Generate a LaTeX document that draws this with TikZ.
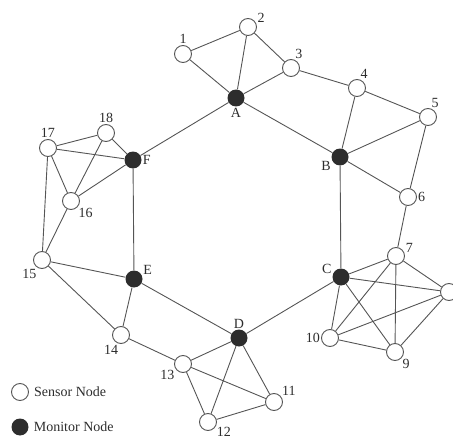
\documentclass[tikz,border=0pt]{standalone}
\usepackage{fontspec}
\setmainfont{Liberation Serif}
\usepackage{xcolor}
\usetikzlibrary{positioning}

\definecolor{linegray}{RGB}{85,85,85}
\definecolor{inkgray}{RGB}{45,45,45}

\begin{document}
\begin{tikzpicture}[
  x=1pt, y=-1pt,
  sensor/.style={circle, draw=linegray, line width=0.9pt, fill=white, minimum size=17pt, inner sep=0pt},
  monitor/.style={circle, fill=inkgray, minimum size=17pt, inner sep=0pt},
  link/.style={draw=linegray, line width=0.9pt},
  every label/.style={font=\fontsize{14}{16}\selectfont, text=inkgray, inner sep=1pt},
  keytext/.style={font=\fontsize{14}{16}\selectfont, text=inkgray, inner sep=0pt}
]
\useasboundingbox (0,0) rectangle (453,436);

% monitor nodes
\node[monitor, label=below:A] (A) at (236,98) {};
\node[monitor, label=200:B] (B) at (340,157) {};
\node[monitor, label=165:C] (C) at (341,277) {};
\node[monitor, label=above:D] (D) at (239,338) {};
\node[monitor, label=20:E] (E) at (134,279) {};
\node[monitor, label=right:F] (F) at (133,160) {};

% sensor nodes
\node[sensor, label=above:1] (n1) at (183,54) {};
\node[sensor, label=20:2] (n2) at (248,27) {};
\node[sensor, label=70:3] (n3) at (291,68) {};
\node[sensor, label=75:4] (n4) at (357,88) {};
\node[sensor, label=75:5] (n5) at (428,117) {};
\node[sensor, label=right:6] (n6) at (408,197) {};
\node[sensor, label=15:7] (n7) at (396,256) {};
\node[sensor] (n8) at (449,292) {};
\node[sensor, label=-45:9] (n9) at (395,352) {};
\node[sensor, label=left:10] (n10) at (330,338) {};
\node[sensor, label=40:11] (n11) at (274,402) {};
\node[sensor, label=-30:12] (n12) at (208,422) {};
\node[sensor, label=215:13] (n13) at (183,364) {};
\node[sensor, label=-100:14] (n14) at (121,335) {};
\node[sensor, label=240:15] (n15) at (42,260) {};
\node[sensor, label=-45:16] (n16) at (71,201) {};
\node[sensor, label=above:17] (n17) at (48,148) {};
\node[sensor, label=above:18] (n18) at (106,133) {};

% ring of monitors
\draw[link] (A) -- (B) -- (C) -- (D) -- (E) -- (F) -- (A);

% clusters
\draw[link] (n1) -- (n2) (n1) -- (A) (n2) -- (A) (n2) -- (n3) (n3) -- (A) (n3) -- (n4);
\draw[link] (n4) -- (B) (n4) -- (n5) (n5) -- (B) (n5) -- (n6) (n6) -- (B) (n6) -- (n7);
\draw[link] (C) -- (n7) (C) -- (n8) (C) -- (n9) (C) -- (n10);
\draw[link] (n7) -- (n8) (n7) -- (n9) (n7) -- (n10) (n8) -- (n9) (n8) -- (n10) (n9) -- (n10);
\draw[link] (D) -- (n13) (D) -- (n11) (D) -- (n12) (n13) -- (n11) (n13) -- (n12) (n12) -- (n11);
\draw[link] (n13) -- (n14) (n14) -- (E) (n14) -- (n15) (n15) -- (E);
\draw[link] (n15) -- (n16) (n15) -- (n17) (n16) -- (F) (n16) -- (n17) (n16) -- (n18);
\draw[link] (n17) -- (n18) (n17) -- (F) (n18) -- (F);

% legend
\node[sensor] (sensorkey) at (20,392) {};
\node[keytext, right=5pt of sensorkey] (sensortext) {Sensor Node};
\node[monitor] (monitorkey) at (20,427) {};
\node[keytext, right=5pt of monitorkey] (monitortext) {Monitor Node};
\end{tikzpicture}
\end{document}
